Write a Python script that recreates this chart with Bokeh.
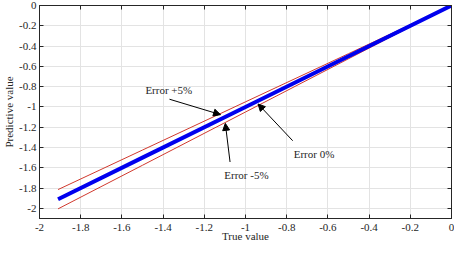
from bokeh.plotting import figure
from bokeh.models import Arrow, NormalHead, Label, FixedTicker, Range1d, LinearAxis
from bokeh.embed import file_html
from bokeh.resources import INLINE

# data
true_vals = [-1.91, -1.5, -1.0, -0.5, 0.0]
pred_vals = [-1.91, -1.5, -1.0, -0.5, 0.0]
plus5_vals = [-1.815, -1.425, -0.95, -0.475, 0.0]
minus5_vals = [-2.005, -1.575, -1.05, -0.525, 0.0]
x_ticks = [-2, -1.8, -1.6, -1.4, -1.2, -1, -0.8, -0.6, -0.4, -0.2, 0]
y_ticks = [0, -0.2, -0.4, -0.6, -0.8, -1, -1.2, -1.4, -1.6, -1.8, -2]
ann_texts = ["Error +5%", "Error -5%", "Error 0%"]
ann_text_x = [-1.486, -1.103, -0.766]
ann_text_y = [-0.829, -1.676, -1.467]
arrow_start = [(-1.369, -0.924), (-1.075, -1.543), (-0.771, -1.333)]
arrow_end = [(-1.121, -1.076), (-1.098, -1.162), (-0.939, -0.971)]

FONT = "Times New Roman"
p = figure(width=454, height=244, output_backend="svg", toolbar_location=None,
           x_range=Range1d(-2, 0), y_range=Range1d(-2.1, 0),
           min_border_left=30, min_border_right=3, min_border_top=5, min_border_bottom=0,
           x_axis_label="True value", y_axis_label="Predictive value")
p.outline_line_color = "#262626"
p.background_fill_color = "white"
p.border_fill_color = "white"

def tick_labels(ticks):
    return {t: ("%g" % t) for t in ticks}

p.xaxis.ticker = FixedTicker(ticks=x_ticks)
p.yaxis.ticker = FixedTicker(ticks=y_ticks)
p.xaxis.major_label_overrides = tick_labels(x_ticks)
p.yaxis.major_label_overrides = tick_labels(y_ticks)
for ax in (p.xaxis, p.yaxis):
    ax.major_tick_in = 4
    ax.major_tick_out = 0
    ax.minor_tick_line_color = None
    ax.axis_line_color = "#262626"
    ax.major_tick_line_color = "#262626"
    ax.major_label_text_font = FONT
    ax.major_label_text_font_size = "11px"
    ax.major_label_text_color = "#262626"
    ax.axis_label_text_font = FONT
    ax.axis_label_text_font_size = "11px"
    ax.axis_label_text_font_style = "normal"
    ax.axis_label_text_color = "#262626"
p.xaxis.major_label_standoff = 5
p.yaxis.major_label_standoff = 3
p.xaxis.axis_label_standoff = -4
p.yaxis.axis_label_standoff = 1

# inward ticks on the top and right edges of the box
top_axis = LinearAxis(ticker=FixedTicker(ticks=x_ticks), major_tick_in=4, major_tick_out=0,
                      minor_tick_line_color=None, major_label_text_color=None,
                      major_label_standoff=0, major_label_text_font_size="1px",
                      axis_line_color="#262626", major_tick_line_color="#262626")
right_axis = LinearAxis(ticker=FixedTicker(ticks=y_ticks), major_tick_in=4, major_tick_out=0,
                        minor_tick_line_color=None, major_label_text_color=None,
                        major_label_standoff=0, major_label_text_font_size="1px",
                        axis_line_color="#262626", major_tick_line_color="#262626")
p.add_layout(top_axis, "above")
p.add_layout(right_axis, "right")

p.xgrid.ticker = FixedTicker(ticks=x_ticks)
p.ygrid.ticker = FixedTicker(ticks=y_ticks)
p.grid.grid_line_color = "#e3e3e3"
p.grid.grid_line_width = 1

p.line(true_vals, plus5_vals, line_color="#d0392e", line_width=1)
p.line(true_vals, minus5_vals, line_color="#d0392e", line_width=1)
p.line(true_vals, pred_vals, line_color="#0000ee", line_width=4)

for (x0, y0), (x1, y1) in zip(arrow_start, arrow_end):
    p.add_layout(Arrow(end=NormalHead(size=7, fill_color="black", line_color="black"),
                       x_start=x0, y_start=y0, x_end=x1, y_end=y1,
                       line_color="black", line_width=1))

for t, x, y in zip(ann_texts, ann_text_x, ann_text_y):
    p.add_layout(Label(text=t, x=x, y=y, text_font=FONT, text_font_size="11px",
                       text_baseline="middle", text_color="#262626"))

open("out.html", "w").write(file_html(p, INLINE))
